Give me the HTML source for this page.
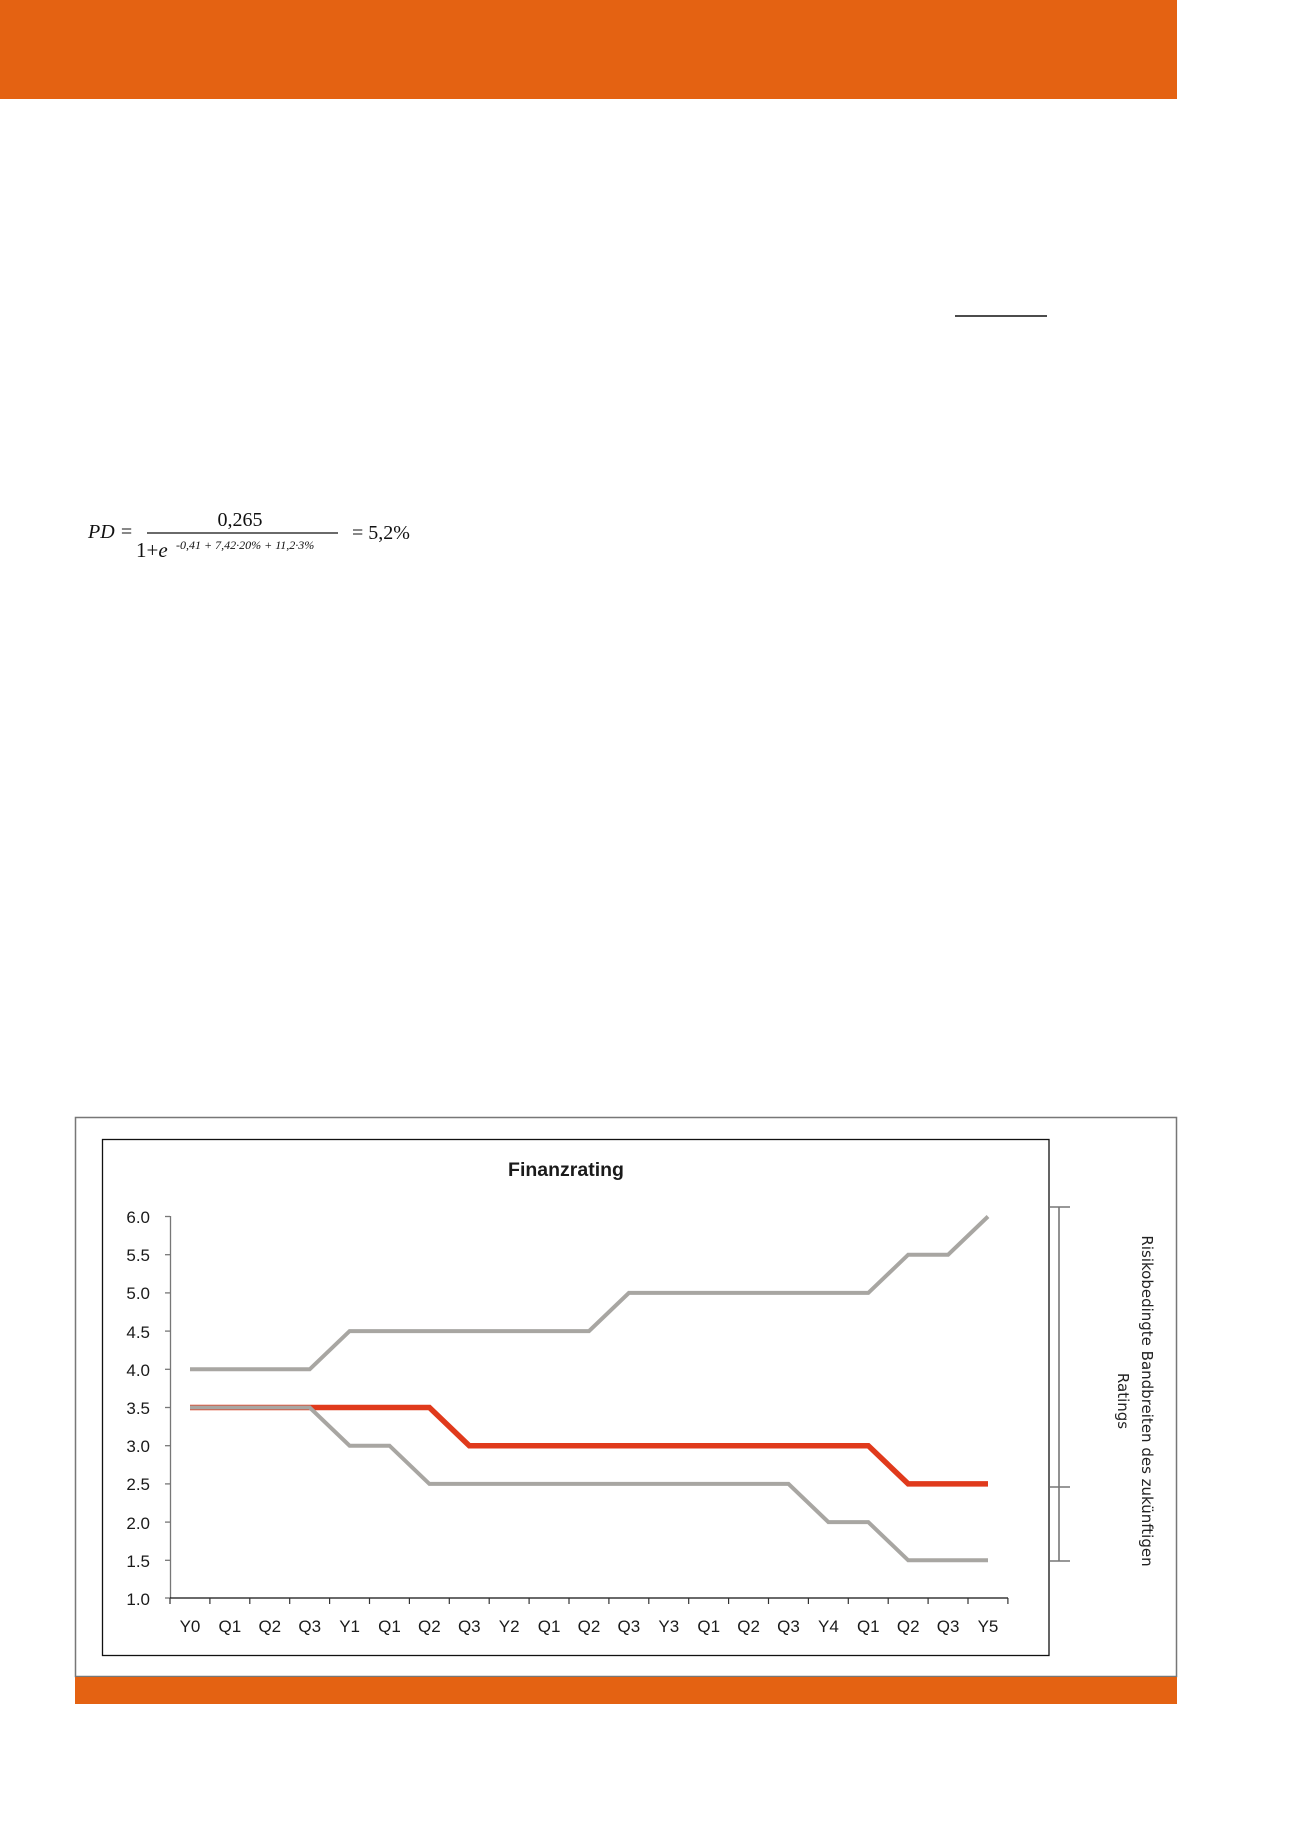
<!DOCTYPE html>
<html><head><meta charset="utf-8"><style>
html,body{margin:0;padding:0;background:#fff;}
svg{display:block;}
</style></head><body>
<svg width="1300" height="1839" viewBox="0 0 1300 1839" xmlns="http://www.w3.org/2000/svg">
<rect x="0" y="0" width="1300" height="1839" fill="#fff"/>
<rect x="0" y="0" width="1177" height="99" fill="#e46212"/>
<line x1="955" y1="316" x2="1047" y2="316" stroke="#111" stroke-width="1.5"/>
<g font-family="Liberation Serif, serif" fill="#111">
<text x="88" y="538" font-size="20" font-style="italic">PD =</text>
<text x="240" y="526" font-size="20" text-anchor="middle">0,265</text>
<line x1="147" y1="533" x2="338" y2="533" stroke="#111" stroke-width="1.2"/>
<text x="136" y="557" font-size="21">1+<tspan font-style="italic">e</tspan></text>
<text x="176" y="549" font-size="12" font-style="italic">-0,41 + 7,42·20% + 11,2·3%</text>
<text x="352" y="539" font-size="20">= 5,2%</text>
</g>
<rect x="75.5" y="1117.5" width="1101" height="559" fill="none" stroke="#777" stroke-width="1.5"/>
<rect x="75" y="1677" width="1102" height="27" fill="#e46212"/>
<rect x="102.5" y="1139.5" width="946.5" height="516" fill="none" stroke="#111" stroke-width="1.3"/>
<text x="566" y="1176" font-family="Liberation Sans, sans-serif" font-weight="bold" font-size="19.5" text-anchor="middle" fill="#1a1a1a">Finanzrating</text>
<g stroke="#777" stroke-width="1.3">
<line x1="170.5" y1="1216" x2="170.5" y2="1598"/>
<line x1="170" y1="1598" x2="1008" y2="1598" stroke="#111"/>
<line x1="165" y1="1216.5" x2="170" y2="1216.5"/><line x1="165" y1="1254.7" x2="170" y2="1254.7"/>
<line x1="165" y1="1292.9" x2="170" y2="1292.9"/><line x1="165" y1="1331.1" x2="170" y2="1331.1"/>
<line x1="165" y1="1369.3" x2="170" y2="1369.3"/><line x1="165" y1="1407.5" x2="170" y2="1407.5"/>
<line x1="165" y1="1445.7" x2="170" y2="1445.7"/><line x1="165" y1="1483.9" x2="170" y2="1483.9"/>
<line x1="165" y1="1522.1" x2="170" y2="1522.1"/><line x1="165" y1="1560.3" x2="170" y2="1560.3"/>
<line x1="165" y1="1598" x2="170" y2="1598"/>
</g>
<g font-family="Liberation Sans, sans-serif" font-size="17" fill="#1a1a1a" text-anchor="end">
<text x="150" y="1223">6.0</text><text x="150" y="1261">5.5</text><text x="150" y="1299">5.0</text>
<text x="150" y="1338">4.5</text><text x="150" y="1376">4.0</text><text x="150" y="1414">3.5</text>
<text x="150" y="1452">3.0</text><text x="150" y="1490">2.5</text><text x="150" y="1529">2.0</text>
<text x="150" y="1567">1.5</text><text x="150" y="1605">1.0</text>
</g>
<g stroke="#333" stroke-width="1.2">
<line x1="170" y1="1598" x2="170" y2="1604"/><line x1="209.9" y1="1598" x2="209.9" y2="1604"/><line x1="249.8" y1="1598" x2="249.8" y2="1604"/><line x1="289.7" y1="1598" x2="289.7" y2="1604"/><line x1="329.6" y1="1598" x2="329.6" y2="1604"/><line x1="369.5" y1="1598" x2="369.5" y2="1604"/><line x1="409.4" y1="1598" x2="409.4" y2="1604"/><line x1="449.3" y1="1598" x2="449.3" y2="1604"/><line x1="489.2" y1="1598" x2="489.2" y2="1604"/><line x1="529.1" y1="1598" x2="529.1" y2="1604"/><line x1="569" y1="1598" x2="569" y2="1604"/><line x1="608.9" y1="1598" x2="608.9" y2="1604"/><line x1="648.8" y1="1598" x2="648.8" y2="1604"/><line x1="688.7" y1="1598" x2="688.7" y2="1604"/><line x1="728.6" y1="1598" x2="728.6" y2="1604"/><line x1="768.5" y1="1598" x2="768.5" y2="1604"/><line x1="808.4" y1="1598" x2="808.4" y2="1604"/><line x1="848.3" y1="1598" x2="848.3" y2="1604"/><line x1="888.2" y1="1598" x2="888.2" y2="1604"/><line x1="928.1" y1="1598" x2="928.1" y2="1604"/><line x1="968" y1="1598" x2="968" y2="1604"/><line x1="1007.9" y1="1598" x2="1007.9" y2="1604"/>
</g>
<g font-family="Liberation Sans, sans-serif" font-size="17" fill="#1a1a1a" text-anchor="middle">
<text x="190" y="1632">Y0</text><text x="229.9" y="1632">Q1</text><text x="269.8" y="1632">Q2</text><text x="309.7" y="1632">Q3</text><text x="349.6" y="1632">Y1</text><text x="389.5" y="1632">Q1</text><text x="429.4" y="1632">Q2</text><text x="469.3" y="1632">Q3</text><text x="509.2" y="1632">Y2</text><text x="549.1" y="1632">Q1</text><text x="589" y="1632">Q2</text><text x="628.9" y="1632">Q3</text><text x="668.8" y="1632">Y3</text><text x="708.7" y="1632">Q1</text><text x="748.6" y="1632">Q2</text><text x="788.5" y="1632">Q3</text><text x="828.4" y="1632">Y4</text><text x="868.3" y="1632">Q1</text><text x="908.2" y="1632">Q2</text><text x="948.1" y="1632">Q3</text><text x="988" y="1632">Y5</text>
</g>
<g fill="none" stroke-linejoin="miter">
<polyline stroke="#e03a1c" stroke-width="5.5" points="190,1407.5 429.4,1407.5 469.3,1445.7 868.3,1445.7 908.2,1483.9 988,1483.9"/>
<polyline stroke="#a8a6a2" stroke-width="4" points="190,1369.3 309.7,1369.3 349.6,1331.1 589,1331.1 628.9,1292.9 868.3,1292.9 908.2,1254.7 948.1,1254.7 988,1216.5"/>
<polyline stroke="#a8a6a2" stroke-width="4" points="190,1407.5 309.7,1407.5 349.6,1445.7 389.5,1445.7 429.4,1483.9 788.5,1483.9 828.4,1522.1 868.3,1522.1 908.2,1560.3 988,1560.3"/>
</g>
<g stroke="#777" stroke-width="1.6">
<line x1="1059" y1="1207" x2="1059" y2="1561"/>
<line x1="1050" y1="1207" x2="1070" y2="1207"/>
<line x1="1050" y1="1487" x2="1070" y2="1487"/>
<line x1="1050" y1="1561" x2="1070" y2="1561"/>
</g>
<g font-family="DejaVu Sans, sans-serif" font-size="15" fill="#222" text-anchor="middle">
<text transform="translate(1142,1401) rotate(90)">Risikobedingte Bandbreiten des zukünftigen</text>
<text transform="translate(1118,1401) rotate(90)">Ratings</text>
</g>
</svg>
</body></html>
